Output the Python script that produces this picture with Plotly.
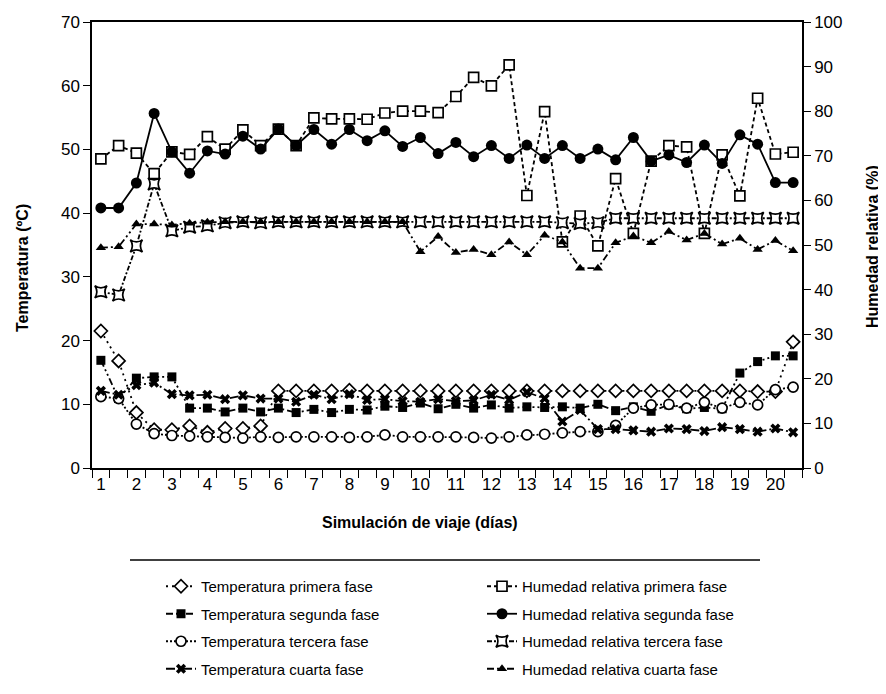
import plotly.graph_objects as go

# Days (half-day sampling)
dias = [1, 1.5, 2, 2.5, 3, 3.5, 4, 4.5, 5, 5.5, 6, 6.5, 7, 7.5, 8, 8.5, 9, 9.5, 10, 10.5,
        11, 11.5, 12, 12.5, 13, 13.5, 14, 14.5, 15, 15.5, 16, 16.5, 17, 17.5, 18, 18.5,
        19, 19.5, 20, 20.5]
x_ticks = [1, 2, 3, 4, 5, 6, 7, 8, 9, 10, 11, 12, 13, 14, 15, 16, 17, 18, 19, 20]

temp_primera = [21.5, 16.8, 8.7, 6.0, 6.0, 6.6, 5.6, 6.2, 6.2, 6.6, 12.1, 12.1, 12.1, 12.1, 12.2,
                12.1, 12.1, 12.1, 12.1, 12.1, 12.1, 12.1, 12.1, 12.1, 12.1, 12.1, 12.1, 12.1,
                12.1, 12.1, 12.1, 12.1, 12.1, 12.1, 12.1, 12.1, 12.1, 12.0, 12.0, 19.8]
temp_segunda = [16.9, 10.9, 14.1, 14.3, 14.3, 9.4, 9.4, 8.8, 9.4, 8.8, 9.4, 8.7, 9.2, 8.7, 9.2,
                9.1, 9.7, 9.5, 10.2, 9.3, 10.0, 9.4, 9.9, 9.4, 9.6, 9.5, 9.6, 9.4, 10.0, 9.0,
                9.6, 8.9, 9.9, 9.3, 9.5, 9.3, 14.9, 16.7, 17.6, 17.6]
temp_tercera = [11.2, 10.9, 6.9, 5.4, 5.1, 5.0, 4.9, 4.8, 4.7, 4.9, 4.8, 4.9, 4.9, 4.9, 4.8,
                4.9, 5.2, 4.9, 4.9, 4.9, 4.9, 4.8, 4.7, 4.9, 5.2, 5.3, 5.5, 5.7, 5.7, 6.7,
                9.4, 9.9, 10.0, 9.4, 10.3, 9.4, 10.3, 9.9, 12.3, 12.7]
temp_cuarta = [12.1, 11.5, 13.0, 13.4, 11.6, 11.4, 11.5, 10.8, 11.4, 10.9, 10.9, 10.4, 11.5, 10.8,
               11.6, 10.7, 10.8, 10.5, 10.4, 10.8, 10.5, 10.6, 11.5, 10.7, 11.9, 10.9, 7.3, 9.1,
               6.1, 6.1, 5.9, 5.7, 6.2, 6.1, 5.8, 6.4, 6.1, 5.7, 6.2, 5.6]

hr_primera = [69.3, 72.3, 70.6, 66.0, 70.9, 70.3, 74.3, 71.5, 75.8, 72.3, 76.0, 72.3, 78.5, 78.3,
              78.3, 78.2, 79.6, 80.0, 80.0, 79.7, 83.3, 87.6, 85.7, 90.4, 61.1, 79.9, 50.7, 56.5,
              49.8, 64.9, 52.6, 68.8, 72.3, 72.0, 52.6, 70.2, 61.0, 82.9, 70.4, 70.8]
hr_segunda = [58.3, 58.3, 63.9, 79.5, 70.9, 66.1, 71.1, 70.4, 74.4, 71.5, 76.0, 72.3, 75.9, 72.6,
              75.9, 73.4, 75.6, 72.1, 74.1, 70.5, 73.0, 69.8, 72.3, 69.4, 72.4, 69.4, 72.3, 69.4,
              71.5, 69.1, 74.1, 68.8, 70.2, 68.5, 72.4, 68.3, 74.7, 72.6, 64.0, 64.0]
hr_tercera = [39.5, 38.8, 49.8, 63.7, 53.2, 54.0, 54.3, 55.0, 55.2, 55.0, 55.2, 55.2, 55.2, 55.2,
              55.2, 55.2, 55.2, 55.2, 55.2, 55.2, 55.2, 55.2, 55.2, 55.2, 55.2, 55.2, 55.0, 54.8,
              55.0, 56.0, 56.0, 56.0, 56.0, 56.0, 56.0, 56.0, 56.0, 56.0, 56.0, 56.0]
hr_cuarta = [49.4, 49.6, 54.7, 54.7, 54.5, 54.9, 55.1, 55.2, 55.2, 55.2, 55.2, 55.2, 55.2, 55.2,
             55.2, 55.2, 55.2, 55.2, 48.5, 51.9, 48.3, 49.0, 47.8, 50.7, 47.8, 52.2, 50.7, 44.8,
             44.8, 50.5, 52.0, 50.5, 53.0, 51.1, 52.6, 50.2, 51.5, 49.0, 51.0, 48.7]

FONT = "Liberation Sans, Arial, Helvetica, sans-serif"
BLACK = "black"

# The page body adds an 8px offset, so the figure is 8px smaller than the window.
OFF = 8
W, H = 886 - OFF, 694 - OFF
# plot area in window pixels: x 92..802, y 22..468
L, R, T, B = 92 - OFF, 886 - 802, 22 - OFF, 694 - 468
PW, PH = 802 - 92, 468 - 22


def px_x(px):
    return (px - 92) / PW


def px_y(py):
    return (468 - py) / PH


# name, values, y-axis, legend, symbol, size, filled, dash
series = [
    ("Temperatura primera fase", temp_primera, "y", "legend", "diamond", 10, False, "2px,4px"),
    ("Temperatura segunda fase", temp_segunda, "y", "legend", "square", 9, True, "7px,3px,2px,3px,2px,3px"),
    ("Temperatura tercera fase", temp_tercera, "y", "legend", "circle", 10, False, "2px,2px"),
    ("Temperatura cuarta fase", temp_cuarta, "y", "legend", "x", 9, True, "9px,3px,2px,3px"),
    ("Humedad relativa primera fase", hr_primera, "y2", "legend2", "square", 10, False, "4px,3px"),
    ("Humedad relativa segunda fase", hr_segunda, "y2", "legend2", "circle", 11, True, "solid"),
    ("Humedad relativa tercera fase", hr_tercera, "y2", "legend2", "star-square", 11, False, "5px,2px,2px,2px"),
    ("Humedad relativa cuarta fase", hr_cuarta, "y2", "legend2", "triangle-up", 9, True, "7px,3px,2px,3px,2px,3px"),
]

fig = go.Figure()
for name, vals, yax, leg, sym, size, filled, dash in series:
    fig.add_trace(go.Scatter(
        x=dias, y=vals, name=name, yaxis=yax, mode="lines+markers",
        legend=leg, legendgroup=name,
        line=dict(color=BLACK, width=1.8, dash=dash),
        marker=dict(symbol=sym, size=size, color=BLACK if filled else "white",
                    line=dict(color=BLACK, width=0 if filled else 1.7)),
        cliponaxis=False,
    ))

legend_common = dict(
    orientation="v", yanchor="top", xanchor="left",
    font=dict(family=FONT, size=15, color=BLACK),
    bgcolor="rgba(0,0,0,0)", borderwidth=0, itemsizing="trace",
    tracegroupgap=5,
)

fig.update_layout(
    width=W, height=H,
    margin=dict(l=L, r=R, t=T, b=B, autoexpand=False),
    paper_bgcolor="white", plot_bgcolor="white",
    font=dict(family=FONT, size=17, color=BLACK),
    showlegend=True,
    legend=dict(x=px_x(161), y=px_y(570), **legend_common),
    legend2=dict(x=px_x(482), y=px_y(570), **legend_common),
    xaxis=dict(
        range=[0.75, 20.75], tickmode="array", tickvals=x_ticks,
        ticktext=[str(v) for v in x_ticks], ticks="", showgrid=False, zeroline=False,
        showline=True, linecolor=BLACK, linewidth=1.5, mirror=True,
        tickfont=dict(family=FONT, size=17),
        minor=dict(ticks="outside", tick0=0.75, dtick=0.5, ticklen=8, tickwidth=1.3,
                   tickcolor=BLACK, showgrid=False),
    ),
    yaxis=dict(
        range=[0, 70], dtick=10, ticks="outside", ticklen=7, tickwidth=1.3, tickcolor=BLACK,
        showgrid=False, zeroline=False, showline=True, linecolor=BLACK, linewidth=1.5,
        tickfont=dict(family=FONT, size=17),
    ),
    yaxis2=dict(
        range=[0, 100], dtick=10, overlaying="y", side="right", ticks="outside", ticklen=7,
        tickwidth=1.3, tickcolor=BLACK, showgrid=False, zeroline=False, showline=True,
        linecolor=BLACK, linewidth=1.5, tickfont=dict(family=FONT, size=17),
    ),
    annotations=[
        dict(text="<b>Simulación de viaje (días)</b>", xref="paper", yref="paper",
             x=px_x(420), y=px_y(522), xanchor="center", yanchor="middle", showarrow=False,
             font=dict(family=FONT, size=16, color=BLACK)),
        dict(text="<b>Temperatura (ºC)</b>", xref="paper", yref="paper", textangle=-90,
             x=px_x(22), y=px_y(268), xanchor="center", yanchor="middle", showarrow=False,
             font=dict(family=FONT, size=16, color=BLACK)),
        dict(text="<b>Humedad relativa (%)</b>", xref="paper", yref="paper", textangle=-90,
             x=px_x(872), y=px_y(247), xanchor="center", yanchor="middle", showarrow=False,
             font=dict(family=FONT, size=16, color=BLACK)),
    ],
    shapes=[dict(type="line", xref="paper", yref="paper",
                 x0=px_x(130), x1=px_x(760), y0=px_y(560), y1=px_y(560),
                 line=dict(color=BLACK, width=1.3))],
)

fig.write_html("out.html")
